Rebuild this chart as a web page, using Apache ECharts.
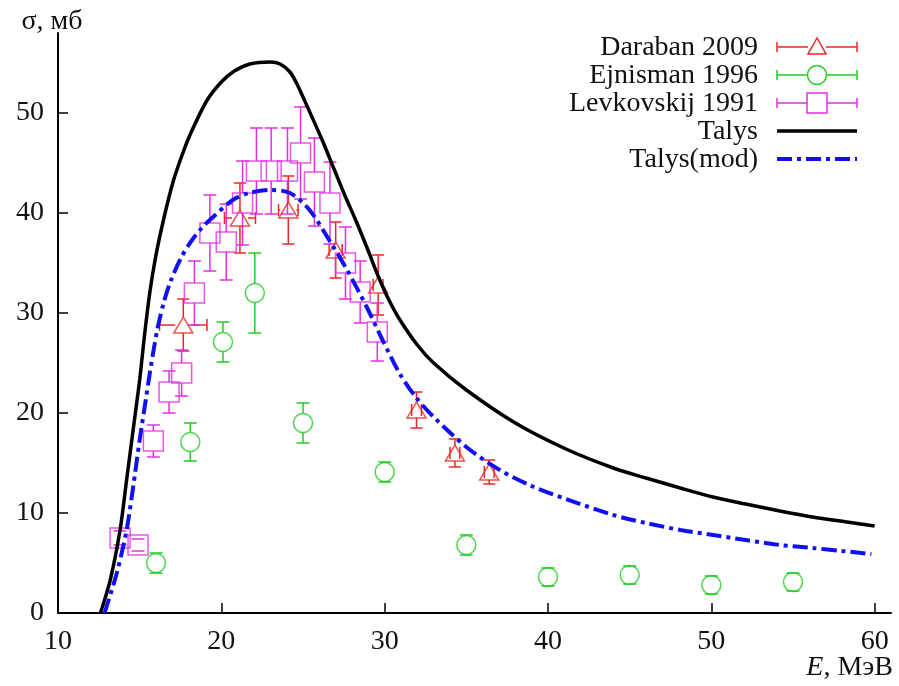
<!DOCTYPE html>
<html>
<head>
<meta charset="utf-8">
<script src="https://cdn.jsdelivr.net/npm/echarts@6/dist/echarts.min.js"></script>
<style>
  html, body { margin: 0; padding: 0; background: #fff; }
  #chart { width: 899px; height: 686px; }
</style>
</head>
<body>
<div id="chart"></div>
<script>
// Energy axis ticks (MeV) and cross-section ticks (mb)
const xTicks = [10, 20, 30, 40, 50, 60];
const yTicks = [0, 10, 20, 30, 40, 50];

// TALYS calculation, default parameters
const talysE = [12.6, 13.2, 13.8, 14.2, 14.6, 15.0, 15.3, 15.6, 16.0, 16.5, 17.06, 17.6, 18.08, 19.1, 20.0, 20.8, 21.75, 23.0, 23.6, 24.2, 24.6, 25.0, 26.2, 26.85, 27.5, 28.3, 29.0, 29.6, 30.2, 30.9, 32.0, 33.0, 35.0, 38.0, 41.1, 44.0, 46.0, 48.1, 50.1, 52.1, 54.2, 56.2, 58.3, 60.0];
const talysS = [0, 3.3, 8.3, 13.3, 18.3, 23.3, 27.8, 31.8, 35.8, 39.6, 43.2, 45.8, 47.8, 51.2, 53.1, 54.2, 54.9, 55.1, 54.9, 54.1, 53.0, 51.6, 47.2, 44.6, 42.0, 39.0, 36.2, 33.7, 31.5, 29.4, 26.8, 25.0, 22.3, 19.0, 16.4, 14.5, 13.5, 12.5, 11.6, 10.9, 10.2, 9.6, 9.1, 8.7];

// TALYS calculation, modified parameters
const talysModE = [12.85, 13.6, 14.2, 14.6, 15.0, 15.4, 15.7, 16.1, 16.5, 16.9, 17.5, 18.08, 18.8, 19.5, 20.7, 21.7, 23.0, 24.2, 25.4, 26.6, 27.7, 28.9, 29.9, 30.9, 31.9, 33.0, 35.0, 37.05, 39.0, 41.1, 44.0, 46.0, 48.1, 50.1, 52.1, 54.2, 56.2, 58.0, 59.8];
const talysModS = [0, 4.0, 8.3, 12.6, 17.3, 21.6, 24.8, 28.5, 31.2, 33.2, 35.4, 37.0, 38.5, 39.6, 41.3, 42.0, 42.3, 42.0, 40.3, 37.3, 34.3, 30.6, 27.2, 24.0, 21.6, 19.6, 16.6, 14.3, 12.7, 11.4, 9.8, 9.0, 8.3, 7.8, 7.3, 6.8, 6.5, 6.2, 5.9];

// Daraban 2009
const darabanE = [17.67, 21.14, 24.1, 27.0, 29.6, 31.95, 34.3, 36.4];
const darabanS = [28.8, 39.5, 40.3, 36.3, 32.8, 20.3, 16.0, 14.1];
const darabanSErr = [2.6, 3.5, 3.4, 2.8, 3.0, 1.8, 1.4, 1.2];
const darabanEErr = [1.45, 0.95, 0.6, 0.4, 0.3, 0.3, 0.3, 0.3];

// Ejnisman 1996
const ejnismanE = [16.0, 18.1, 20.1, 22.05, 25.0, 30.0, 35.0, 40.0, 45.0, 50.0, 55.0];
const ejnismanS = [5.0, 17.1, 27.1, 32.0, 19.0, 14.1, 6.8, 3.6, 3.8, 2.8, 3.1];
const ejnismanSErr = [1.0, 1.9, 2.0, 4.0, 2.0, 1.0, 1.0, 0.9, 0.9, 0.9, 0.9];

// Levkovskij 1991
const levE = [13.8, 14.9, 15.84, 16.8, 17.57, 18.35, 19.3, 20.3, 21.3, 22.15, 23.05, 24.05, 24.85, 25.7, 26.65, 27.6, 28.5, 29.55];
const levS = [7.5, 6.8, 17.2, 22.1, 24.0, 32.0, 38.0, 37.1, 41.0, 44.2, 44.2, 44.2, 46.0, 43.1, 41.0, 35.0, 32.1, 28.1];
const levSErr = [0.7, 0.6, 1.6, 2.1, 2.3, 3.2, 3.8, 3.8, 4.2, 4.3, 4.3, 4.3, 4.6, 4.4, 4.1, 3.6, 3.1, 2.9];

const RED = '#f02424';
const GREEN = '#22cc22';
const MAGENTA = '#e22ee2';
const BLUE = '#1010f5';
const FONT = 'Liberation Serif, Times New Roman, serif';
const FS = 28;

const pairs = (xs, ys) => xs.map((x, i) => [x, ys[i]]);

// Error bars: vertical (and optional horizontal) whiskers with end caps,
// leaving a gap where the point symbol sits.
function errorBars(color, cap, gap) {
  return function (params, api) {
    const x = api.value(0), y = api.value(1), dy = api.value(2), dx = api.value(3);
    const c = api.coord([x, y]);
    const style = { stroke: color, lineWidth: 1.5, fill: null };
    const kids = [];
    const seg = (x1, y1, x2, y2) => kids.push({ type: 'line', shape: { x1, y1, x2, y2 }, style });
    if (dy > 0) {
      const t = api.coord([x, y + dy])[1], b = api.coord([x, y - dy])[1];
      if (c[1] - t > gap) seg(c[0], t, c[0], c[1] - gap);
      if (b - c[1] > gap) seg(c[0], c[1] + gap, c[0], b);
      seg(c[0] - cap, t, c[0] + cap, t);
      seg(c[0] - cap, b, c[0] + cap, b);
    }
    if (dx > 0) {
      const l = api.coord([x - dx, y])[0], r = api.coord([x + dx, y])[0];
      if (c[0] - l > gap) seg(l, c[1], c[0] - gap, c[1]);
      if (r - c[0] > gap) seg(c[0] + gap, c[1], r, c[1]);
      seg(l, c[1] - cap, l, c[1] + cap);
      seg(r, c[1] - cap, r, c[1] + cap);
    }
    return { type: 'group', children: kids };
  };
}

const darabanErr = darabanE.map((e, i) => [e, darabanS[i], darabanSErr[i], darabanEErr[i]]);
const ejnismanErr = ejnismanE.map((e, i) => [e, ejnismanS[i], ejnismanSErr[i], 0]);
const levErr = levE.map((e, i) => [e, levS[i], levSErr[i], 0]);

const chart = echarts.init(document.getElementById('chart'));

// Legend block in the upper right: label, then a sample of the series style.
const legendRows = [
  { name: 'Daraban 2009', color: RED, kind: 'triangle' },
  { name: 'Ejnisman 1996', color: GREEN, kind: 'circle' },
  { name: 'Levkovskij 1991', color: MAGENTA, kind: 'square' },
  { name: 'Talys', color: '#000', kind: 'solid' },
  { name: 'Talys(mod)', color: BLUE, kind: 'dashdot' }
];
const legendX = 758, legendTop = 47, legendStep = 28, sampleL = 777, sampleR = 857;
const legendGraphics = [];
legendRows.forEach((row, k) => {
  const y = legendTop + k * legendStep;
  legendGraphics.push({
    type: 'text', x: legendX, y: y + 1, z: 10,
    style: { text: row.name, font: FS + 'px ' + FONT, fill: '#111', align: 'right', verticalAlign: 'middle' }
  });
  const mid = (sampleL + sampleR) / 2;
  if (row.kind === 'solid') {
    legendGraphics.push({ type: 'line', z: 10, shape: { x1: sampleL, y1: y, x2: sampleR, y2: y }, style: { stroke: '#000', lineWidth: 3.5 } });
  } else if (row.kind === 'dashdot') {
    legendGraphics.push({ type: 'line', z: 10, shape: { x1: sampleL, y1: y, x2: sampleR, y2: y }, style: { stroke: BLUE, lineWidth: 4, lineDash: [15, 5, 4, 5] } });
  } else {
    const st = { stroke: row.color, lineWidth: 1.5, fill: null };
    const half = row.kind === 'triangle' ? 9 : 10;
    legendGraphics.push({ type: 'line', z: 10, shape: { x1: sampleL, y1: y, x2: mid - half, y2: y }, style: st });
    legendGraphics.push({ type: 'line', z: 10, shape: { x1: mid + half, y1: y, x2: sampleR, y2: y }, style: st });
    legendGraphics.push({ type: 'line', z: 10, shape: { x1: sampleL, y1: y - 5, x2: sampleL, y2: y + 5 }, style: st });
    legendGraphics.push({ type: 'line', z: 10, shape: { x1: sampleR, y1: y - 5, x2: sampleR, y2: y + 5 }, style: st });
    if (row.kind === 'triangle') {
      legendGraphics.push({ type: 'polygon', z: 10, shape: { points: [[mid, y - 9], [mid - 9, y + 7], [mid + 9, y + 7]] }, style: st });
    } else if (row.kind === 'circle') {
      legendGraphics.push({ type: 'circle', z: 10, shape: { cx: mid, cy: y, r: 9.5 }, style: st });
    } else {
      legendGraphics.push({ type: 'rect', z: 10, shape: { x: mid - 10, y: y - 10, width: 20, height: 20 }, style: st });
    }
  }
});

const option = {
  backgroundColor: '#fff',
  animation: false,
  grid: { left: 58, right: 8, top: 33, bottom: 73, containLabel: false, outerBoundsMode: 'none' },
  xAxis: {
    type: 'value', min: 10, max: 61, interval: 10,
    name: '{i|E}, МэВ',
    nameLocation: 'end', nameGap: 2, nameMoveOverlap: false,
    nameTextStyle: {
      align: 'right', verticalAlign: 'top', padding: [41, 0, 0, 0],
      fontFamily: FONT, fontSize: FS, color: '#111',
      rich: { i: { fontStyle: 'italic', fontFamily: FONT, fontSize: FS, color: '#111' } }
    },
    axisLine: { show: true, lineStyle: { color: '#000', width: 2 } },
    axisTick: { show: true, inside: true, length: 10, customValues: xTicks, lineStyle: { color: '#000', width: 1.5 } },
    axisLabel: { customValues: xTicks, margin: 15, fontFamily: FONT, fontSize: FS, color: '#111' },
    splitLine: { show: false }
  },
  yAxis: {
    type: 'value', min: 0, max: 58, interval: 10,
    name: 'σ, мб',
    nameLocation: 'end', nameGap: -3, nameMoveOverlap: false,
    nameTextStyle: { fontFamily: FONT, fontSize: FS, color: '#111', align: 'center', padding: [0, 12, 0, 0] },
    axisLine: { show: true, lineStyle: { color: '#000', width: 2 } },
    axisTick: { show: true, inside: true, length: 10, customValues: yTicks, lineStyle: { color: '#000', width: 1.5 } },
    axisLabel: { customValues: yTicks, margin: 14, fontFamily: FONT, fontSize: FS, color: '#111' },
    splitLine: { show: false }
  },
  graphic: legendGraphics,
  series: [
    { name: 'Daraban 2009 err', type: 'custom', renderItem: errorBars(RED, 6, 8), data: darabanErr, encode: { x: 0, y: 1 }, z: 2 },
    { name: 'Daraban 2009', type: 'scatter', data: pairs(darabanE, darabanS), symbol: 'triangle', symbolSize: [19, 16],
      itemStyle: { color: 'transparent', borderColor: RED, borderWidth: 1.5 }, z: 2 },
    { name: 'Ejnisman 1996 err', type: 'custom', renderItem: errorBars(GREEN, 6.5, 9.5), data: ejnismanErr, encode: { x: 0, y: 1 }, z: 2 },
    { name: 'Ejnisman 1996', type: 'scatter', data: pairs(ejnismanE, ejnismanS), symbol: 'circle', symbolSize: 19,
      itemStyle: { color: 'transparent', borderColor: GREEN, borderWidth: 1.5 }, z: 2 },
    { name: 'Levkovskij 1991 err', type: 'custom', renderItem: errorBars(MAGENTA, 6.5, 10), data: levErr, encode: { x: 0, y: 1 }, z: 2 },
    { name: 'Levkovskij 1991', type: 'scatter', data: pairs(levE, levS), symbol: 'rect', symbolSize: 20,
      itemStyle: { color: 'transparent', borderColor: MAGENTA, borderWidth: 1.5 }, z: 2 },
    { name: 'Talys', type: 'line', data: pairs(talysE, talysS), showSymbol: false, smooth: 0.3,
      lineStyle: { color: '#000', width: 3.5 }, z: 3 },
    { name: 'Talys(mod)', type: 'line', data: pairs(talysModE, talysModS), showSymbol: false, smooth: 0.3,
      lineStyle: { color: BLUE, width: 4, type: [15, 5, 4, 5] }, z: 4 }
  ]
};

chart.setOption(option);
</script>
</body>
</html>
